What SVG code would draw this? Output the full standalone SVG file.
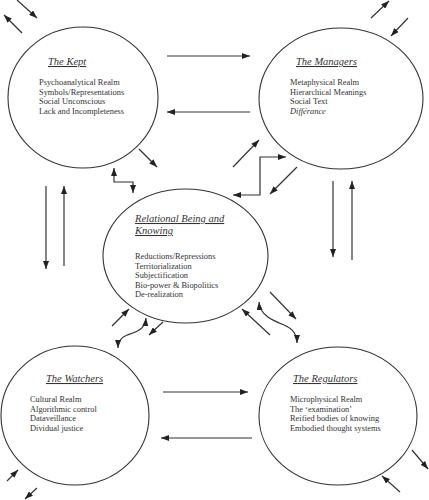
<svg xmlns="http://www.w3.org/2000/svg" width="429" height="500" viewBox="0 0 429 500">
<defs>
<marker id="ah" markerUnits="userSpaceOnUse" markerWidth="8" markerHeight="6" refX="8" refY="3" orient="auto-start-reverse">
<path d="M0,0 L8,3 L0,6 z" fill="#222"/>
</marker>
<style>
.node ellipse{fill:#fff;stroke:#333;stroke-width:1.1}
.t{font-family:"Liberation Serif","Times New Roman",serif;fill:#333}
.title{font-size:10.5px;font-style:italic;text-decoration:underline}
.body{font-size:8.4px}
.c line,.c path,.c polyline{stroke:#333;stroke-width:1.2;fill:none;marker-end:url(#ah)}
.c .both{marker-start:url(#ah)}
</style>
</defs>
<rect width="429" height="500" fill="#fff"/>
<g id="kept" class="node">
<ellipse cx="83" cy="97.5" rx="75" ry="70.5"/>
<text class="t title" x="48" y="65">The Kept</text>
<text class="t body" x="39" y="85">Psychoanalytical Realm</text>
<text class="t body" x="39" y="94.5">Symbols/Representations</text>
<text class="t body" x="39" y="104">Social Unconscious</text>
<text class="t body" x="39" y="113.5">Lack and Incompleteness</text>
</g>
<g id="managers" class="node">
<ellipse cx="341" cy="98.5" rx="82" ry="70.5"/>
<text class="t title" x="296" y="65">The Managers</text>
<text class="t body" x="290" y="85">Metaphysical Realm</text>
<text class="t body" x="290" y="94.5">Hierarchical Meanings</text>
<text class="t body" x="290" y="104">Social Text</text>
<text class="t body" x="290" y="113.5" font-style="italic">Différance</text>
</g>
<g id="relational" class="node">
<ellipse cx="185.5" cy="256" rx="82.5" ry="67"/>
<text class="t title" x="135" y="222">Relational Being and</text>
<text class="t title" x="135" y="234">Knowing</text>
<text class="t body" x="135" y="259">Reductions/Repressions</text>
<text class="t body" x="135" y="268.5">Territorialization</text>
<text class="t body" x="135" y="278">Subjectification</text>
<text class="t body" x="135" y="287.5">Bio-power &amp; Biopolitics</text>
<text class="t body" x="135" y="297">De-realization</text>
</g>
<g id="watchers" class="node">
<ellipse cx="75" cy="415.5" rx="74" ry="69.5"/>
<text class="t title" x="46" y="382">The Watchers</text>
<text class="t body" x="30" y="402">Cultural Realm</text>
<text class="t body" x="30" y="411.5">Algorithmic control</text>
<text class="t body" x="30" y="421">Dataveillance</text>
<text class="t body" x="30" y="430.5">Dividual justice</text>
</g>
<g id="regulators" class="node">
<ellipse cx="338" cy="416" rx="79" ry="69"/>
<text class="t title" x="293" y="382">The Regulators</text>
<text class="t body" x="290" y="402">Microphysical Realm</text>
<text class="t body" x="290" y="411.5">The ‘examination’</text>
<text class="t body" x="290" y="421">Reified bodies of knowing</text>
<text class="t body" x="290" y="430.5">Embodied thought systems</text>
</g>
<g id="connectors" class="c">
<line x1="22" y1="33" x2="4" y2="15"/>
<line x1="17" y1="0" x2="37" y2="18"/>
<line x1="371" y1="18" x2="389" y2="1"/>
<line x1="408" y1="18" x2="391" y2="36"/>
<line x1="167" y1="56" x2="250" y2="56"/>
<line x1="250" y1="112" x2="167" y2="112"/>
<line x1="139" y1="149" x2="157" y2="167"/>
<polyline class="both" points="114,168 114,182 133,182 133,193"/>
<line x1="233" y1="167" x2="259" y2="140"/>
<polyline class="both" points="233,195 260,195 260,157 286,157"/>
<line x1="297" y1="167" x2="270" y2="194"/>
<line x1="46" y1="186" x2="46" y2="269"/>
<line x1="64" y1="266" x2="64" y2="186"/>
<line x1="333" y1="181" x2="333" y2="257"/>
<line x1="352" y1="260" x2="352" y2="181"/>
<line x1="112" y1="326" x2="129" y2="309"/>
<path class="both" d="M146,318 C145,330 136,332 127,335 C120,338 118,342 118,348"/>
<line x1="163" y1="322" x2="149" y2="335"/>
<line x1="270" y1="335" x2="242" y2="309"/>
<path class="both" d="M259,302 C260,316 274,321 284,325 C294,329 297,335 297,343"/>
<line x1="270" y1="292" x2="296" y2="319"/>
<line x1="163" y1="392" x2="248" y2="392"/>
<line x1="252" y1="438" x2="161" y2="438"/>
<line x1="7" y1="481" x2="18" y2="470"/>
<line x1="37" y1="488" x2="25" y2="499"/>
<line x1="412" y1="450" x2="428" y2="469"/>
<line x1="400" y1="492" x2="382" y2="476"/>
</g>
</svg>
